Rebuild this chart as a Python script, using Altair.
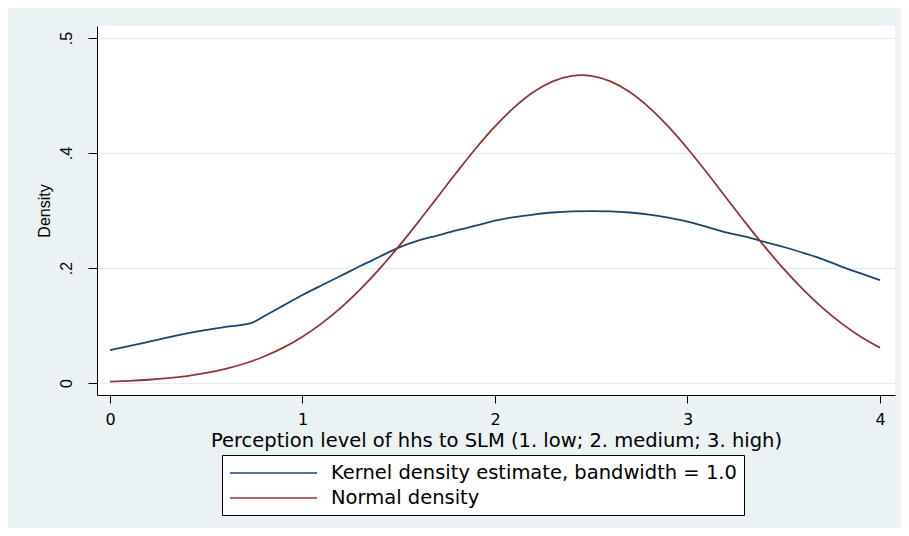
import altair as alt
import pandas as pd

# ---- data ----
series_names = ["Kernel density estimate, bandwidth = 1.0", "Normal density"]
series_colors = ["#1A476F", "#90353B"]

kde_x = [0.0, 0.2, 0.4, 0.6, 0.74, 0.8, 0.9, 1.0, 1.1, 1.2, 1.3, 1.4, 1.5, 1.6, 1.7,
         1.8, 1.9, 2.0, 2.1, 2.2, 2.3, 2.4, 2.5, 2.6, 2.7, 2.8, 2.9, 3.0, 3.1, 3.2,
         3.3, 3.4, 3.5, 3.6, 3.7, 3.8, 3.9, 4.0]
kde_y = [0.057, 0.0716, 0.0862, 0.0975, 0.1050, 0.1160, 0.1345, 0.153, 0.170, 0.1865,
         0.2035, 0.2195, 0.2355, 0.2475, 0.2565, 0.2655, 0.2735, 0.2825, 0.2885, 0.293,
         0.2965, 0.2985, 0.299, 0.2985, 0.2965, 0.293, 0.2875, 0.2805, 0.2715, 0.262,
         0.2545, 0.2455, 0.2365, 0.2265, 0.2155, 0.2025, 0.1905, 0.179]

norm_x = [0.0, 0.1, 0.2, 0.3, 0.4, 0.5, 0.6, 0.7, 0.8, 0.9, 1.0, 1.1, 1.2, 1.3, 1.4,
          1.5, 1.6, 1.7, 1.8, 1.9, 2.0, 2.1, 2.2, 2.3, 2.4, 2.45, 2.5, 2.6, 2.7, 2.8,
          2.9, 3.0, 3.1, 3.2, 3.3, 3.4, 3.5, 3.6, 3.7, 3.8, 3.9, 4.0]
norm_y = [0.0024, 0.0037, 0.0056, 0.0083, 0.0121, 0.0174, 0.0245, 0.0339, 0.0461,
          0.0615, 0.0806, 0.1037, 0.1310, 0.1627, 0.1984, 0.2375, 0.2793, 0.3227,
          0.3660, 0.4078, 0.4462, 0.4795, 0.5062, 0.5247, 0.5343, 0.5356, 0.5343,
          0.5247, 0.5062, 0.4795, 0.4462, 0.4078, 0.3660, 0.3227, 0.2793, 0.2375,
          0.1984, 0.1627, 0.1310, 0.1037, 0.0806, 0.0615]

x_ticks = [0, 1, 2, 3, 4]
y_ticks = [0, 0.2, 0.4, 0.6]
y_tick_labels = ["0", ".2", ".4", ".5"]

x_title = "Perception level of hhs to SLM (1. low; 2. medium; 3. high)"
y_title = "Density"

df = pd.concat([
    pd.DataFrame({"x": kde_x, "y": kde_y, "series": series_names[0]}),
    pd.DataFrame({"x": norm_x, "y": norm_y, "series": series_names[1]}),
], ignore_index=True)

# label expression from the tick lists
expr = "''"
for v, lab in reversed(list(zip(y_ticks, y_tick_labels))):
    expr = f"abs(datum.value - {v}) < 1e-6 ? '{lab}' : ({expr})"

H_FONT = "DejaVu Sans"
V_FONT = "Liberation Sans"

chart = alt.Chart(df).mark_line(strokeWidth=1.8, interpolate="monotone").encode(
    x=alt.X("x:Q",
            scale=alt.Scale(domain=[-0.0675, 4.078], nice=False, zero=False),
            axis=alt.Axis(title=x_title, values=x_ticks, grid=False,
                          tickSize=8, tickColor="black", domainColor="black",
                          labelFont=H_FONT, labelFontSize=16, labelColor="black",
                          labelPadding=8, titleFont=H_FONT, titleFontSize=19.5,
                          titleFontWeight="normal", titleColor="black",
                          titlePadding=4, labelFlush=False)),
    y=alt.Y("y:Q",
            scale=alt.Scale(domain=[-0.0209, 0.6209], nice=False, zero=False),
            axis=alt.Axis(title=y_title, values=y_ticks, grid=True,
                          gridColor="#E3ECEF", gridWidth=1,
                          tickSize=9, tickColor="black", domainColor="black",
                          labelAngle=270, labelExpr=expr,
                          labelFont=V_FONT, labelFontSize=16, labelColor="black",
                          labelPadding=14, titleFont=V_FONT, titleFontSize=16,
                          titleFontWeight="normal", titleColor="black",
                          titlePadding=6, labelFlush=False)),
    color=alt.Color("series:N",
                    scale=alt.Scale(domain=series_names, range=series_colors),
                    legend=alt.Legend(title=None, orient="none",
                                      legendX=125, legendY=429,
                                      direction="vertical",
                                      symbolType="M-1,0L7.7,0", symbolSize=400,
                                      symbolStrokeWidth=1.5,
                                      labelFont=H_FONT, labelFontSize=19.5,
                                      labelColor="black", labelOffset=80,
                                      labelLimit=0, rowPadding=4,
                                      padding=7)),
).properties(
    width=798,
    height=369,
    autosize=alt.AutoSizeParams(type="none"),
    padding={"left": 89, "top": 18, "right": 6, "bottom": 133},
    background="#EAF2F3",
).configure_view(
    fill="white", stroke=None
).configure_axis(
    domainWidth=1, tickWidth=1
).configure_legend(
    fillColor="white", strokeColor="black", strokeWidth=1
)

chart.save("out.html", embed_options={"renderer": "svg", "actions": False})
